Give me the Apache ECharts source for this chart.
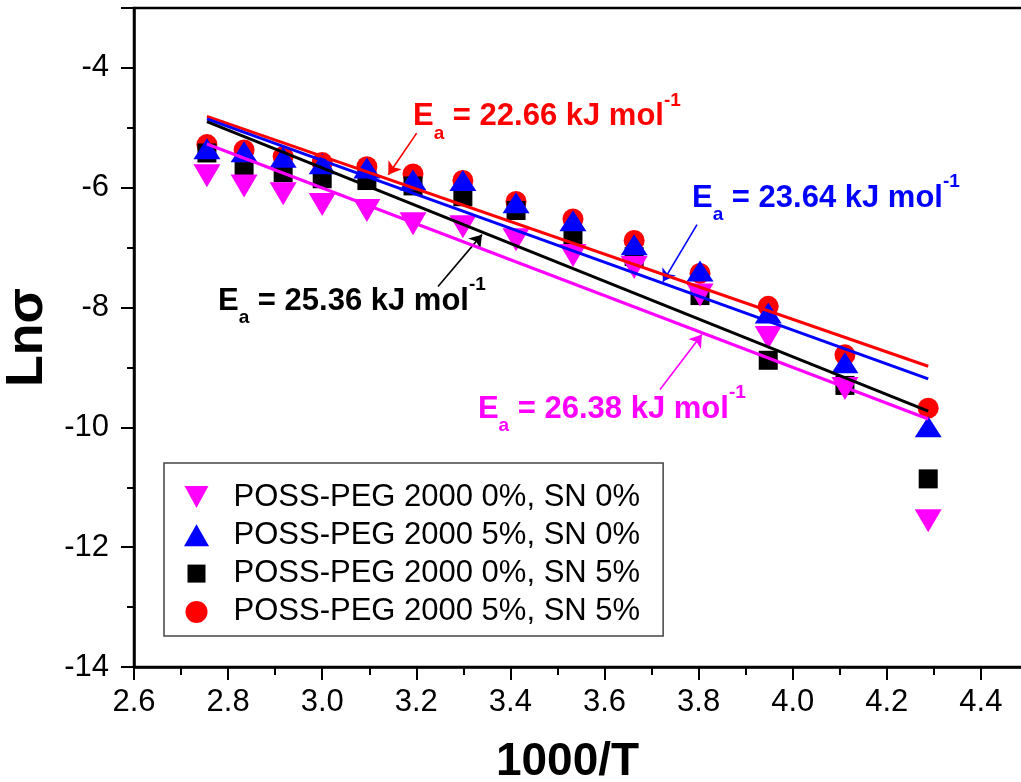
<!DOCTYPE html>
<html><head><meta charset="utf-8">
<script src="https://cdn.jsdelivr.net/npm/echarts@6/dist/echarts.min.js"></script>
<style>html,body{margin:0;padding:0;background:#fff}#c{width:1021px;height:782px}</style>
</head><body><div id="c"></div>
<script>
// ---- data ----
const invT = [2.755, 2.834, 2.917, 3.000, 3.095, 3.193, 3.299, 3.412, 3.533, 3.663, 3.803, 3.948, 4.111, 4.288];
const names = ['POSS-PEG 2000 0%, SN 0%', 'POSS-PEG 2000 5%, SN 0%', 'POSS-PEG 2000 0%, SN 5%', 'POSS-PEG 2000 5%, SN 5%'];
const lnPink  = [-5.80, -5.97, -6.10, -6.28, -6.38, -6.60, -6.65, -6.87, -7.13, -7.33, -7.79, -8.50, -9.35, -11.56];
const lnBlue  = [-5.35, -5.40, -5.49, -5.60, -5.67, -5.87, -5.88, -6.25, -6.55, -6.95, -7.39, -8.09, -8.92, -9.99];
const lnBlack = [-5.42, -5.73, -5.75, -5.85, -5.88, -5.97, -6.15, -6.38, -6.80, -7.15, -7.80, -8.88, -9.30, -10.86];
const lnRed   = [-5.28, -5.37, -5.48, -5.58, -5.65, -5.77, -5.88, -6.23, -6.52, -6.88, -7.43, -7.98, -8.79, -9.68];
// linear fits: value at the first and last 1000/T
const fitX     = [2.755, 4.288];
const fitPink  = [-5.27, -9.86];
const fitBlue  = [-4.85, -9.19];
const fitBlack = [-4.895, -9.73];
const fitRed   = [-4.81, -8.98];
const eaValues = ['26.38', '23.64', '25.36', '22.66']; // pink, blue, black, red
const xAxisName = '1000/T';
const yAxisName = 'Lnσ';

// ---- annotation placement (data coordinates) ----
const annot = {
  pink:  {text: [3.331, -9.70], arrow: [[3.718, -9.367], [3.807, -8.45]]},
  blue:  {text: [3.786, -6.183], arrow: [[3.7966, -6.617], [3.7243, -7.567]]},
  black: {text: [2.7785, -7.90], arrow: [[3.2461, -7.65], [3.3396, -6.783]]},
  red:   {text: [3.193, -4.817], arrow: [[3.2008, -5.088], [3.1405, -5.783]]}
};

const FONT = 'Liberation Sans, Arial, sans-serif';
const pts = (ys) => invT.map((x, i) => [x, ys[i]]);
const fit = (ys) => fitX.map((x, i) => [x, ys[i]]);

function fitSeries(key, ys, color, ea) {
  const a = annot[key];
  return {
    type: 'line', data: fit(ys), showSymbol: false, symbol: 'none', z: 5,
    lineStyle: {color: color, width: 3}, silent: true,
    markLine: {
      silent: true, symbol: ['none', 'arrow'], symbolSize: 12,
      lineStyle: {color: color, width: 1.6, type: 'solid'},
      label: {show: false},
      data: [[{coord: a.arrow[0]}, {coord: a.arrow[1]}]]
    },
    markPoint: {
      silent: true, symbol: 'circle', symbolSize: 1,
      itemStyle: {color: 'rgba(0,0,0,0)'},
      label: {
        show: true, position: 'inside', align: 'left', verticalAlign: 'middle',
        formatter: '{m|E}{s|a}{m| = ' + ea + ' kJ mol}{p|-1}',
        rich: {
          m: {fontFamily: FONT, fontSize: 31, fontWeight: 'bold', color: color, lineHeight: 52},
          s: {fontFamily: FONT, fontSize: 19, fontWeight: 'bold', color: color, lineHeight: 19, verticalAlign: 'bottom'},
          p: {fontFamily: FONT, fontSize: 19, fontWeight: 'bold', color: color, lineHeight: 19, verticalAlign: 'top'}
        }
      },
      data: [{coord: a.text, value: ea}]
    }
  };
}

const chart = echarts.init(document.getElementById('c'), null, {renderer: 'canvas'});
chart.setOption({
  animation: false,
  backgroundColor: '#fff',
  grid: {left: 134, top: 8, width: 941, height: 659, outerBoundsMode: 'none', containLabel: false,
         show: true, borderColor: '#000', borderWidth: 2.5, backgroundColor: 'transparent'},
  xAxis: {
    type: 'value', min: 2.6, max: 4.6, interval: 0.2,
    name: xAxisName, nameLocation: 'middle', nameGap: 72,
    nameTextStyle: {fontFamily: FONT, fontSize: 46, fontWeight: 'bold', color: '#000', padding: [0, 74, 0, 0]},
    axisLine: {show: true, lineStyle: {color: '#000', width: 2.5}},
    axisTick: {show: true, length: 13, lineStyle: {width: 2, color: '#000'}},
    minorTick: {show: true, splitNumber: 2, length: 8, lineStyle: {width: 2, color: '#000'}},
    axisLabel: {fontFamily: FONT, fontSize: 31, color: '#000', margin: 20, formatter: v => v.toFixed(1)},
    splitLine: {show: false}
  },
  yAxis: {
    type: 'value', min: -14, max: -3, interval: 2,
    name: yAxisName, nameLocation: 'middle', nameGap: 74,
    nameTextStyle: {fontFamily: FONT, fontSize: 52, fontWeight: 'bold', color: '#000'},
    axisLine: {show: true, lineStyle: {color: '#000', width: 2.5}},
    axisTick: {show: true, length: 13, lineStyle: {width: 2, color: '#000'}},
    minorTick: {show: true, splitNumber: 2, length: 7, lineStyle: {width: 2, color: '#000'}},
    axisLabel: {fontFamily: FONT, fontSize: 31, color: '#000', margin: 25, showMaxLabel: false, formatter: v => String(v)},
    splitLine: {show: false}
  },
  legend: {
    orient: 'vertical', left: 164, top: 463,
    padding: [18.5, 23, 8.5, 20], itemGap: 7.3,
    itemWidth: 64, itemHeight: 22, symbolRotate: 0, symbolKeepAspect: true,
    borderColor: '#444', borderWidth: 1.5, backgroundColor: '#fff',
    textStyle: {fontFamily: FONT, fontSize: 31, color: '#000', lineHeight: 31},
    data: [
      {name: names[0], icon: 'path://M0,0L25,0L12.5,23Z'},
      {name: names[1], icon: 'path://M12.5,0L25,22L0,22Z'},
      {name: names[2], icon: 'path://M0,0L0,0M2,2L20,2L20,20L2,20ZM22,22L22,22'},
      {name: names[3], icon: 'circle'}
    ]
  },
  series: [
    {name: names[3], type: 'scatter', data: pts(lnRed), symbol: 'circle', symbolSize: 21, itemStyle: {color: '#ff0000', opacity: 1}, z: 2},
    {name: names[2], type: 'scatter', data: pts(lnBlack), symbol: 'rect', symbolSize: [19, 19], itemStyle: {color: '#000000', opacity: 1}, z: 3},
    {name: names[0], type: 'scatter', data: pts(lnPink), symbol: 'triangle', symbolRotate: 180, symbolSize: [27, 23], itemStyle: {color: '#ff00ff', opacity: 1}, z: 3},
    {name: names[1], type: 'scatter', data: pts(lnBlue), symbol: 'triangle', symbolSize: [27, 21], itemStyle: {color: '#0000ff', opacity: 1}, z: 4},
    fitSeries('red', fitRed, '#ff0000', eaValues[3]),
    fitSeries('blue', fitBlue, '#0000ff', eaValues[1]),
    fitSeries('black', fitBlack, '#000000', eaValues[2]),
    fitSeries('pink', fitPink, '#ff00ff', eaValues[0])
  ]
});
</script></body></html>
